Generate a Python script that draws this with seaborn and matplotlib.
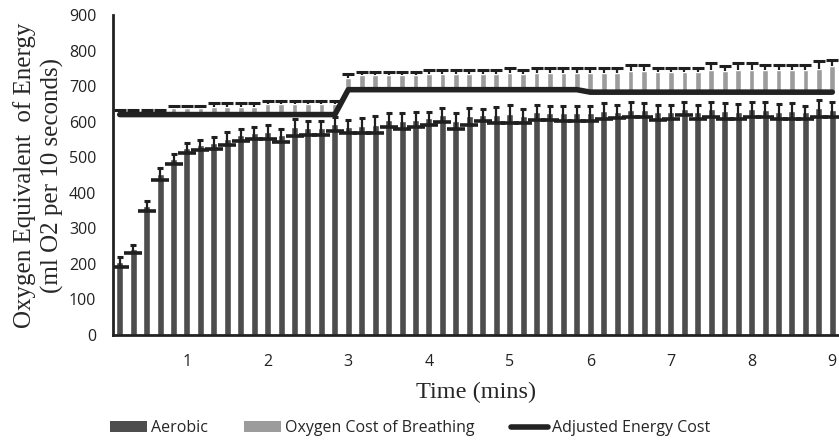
import matplotlib
matplotlib.use("Agg")
import matplotlib.pyplot as plt
import seaborn as sns
import numpy as np
from matplotlib.patches import Patch
from matplotlib.lines import Line2D

# one bar per 10 seconds, 54 bars shown (the chart is cut off at 9 min)
aerobic = [206, 242, 362, 452, 494, 525, 534, 540, 552, 562,
           568, 570, 562, 584, 582, 582, 593, 586, 588, 592,
           605, 602, 606, 610, 618, 602, 615, 618, 619, 622,
           617, 626, 624, 623, 623, 623, 630, 628, 634, 632,
           626, 627, 637, 627, 635, 630, 628, 635, 634, 628,
           630, 626, 638, 634]
aerobic_err = [14, 12, 14, 17, 14, 14, 14, 18, 18, 17,
               18, 20, 18, 23, 20, 20, 19, 18, 21, 25,
               20, 23, 22, 18, 20, 23, 24, 17, 22, 25,
               20, 22, 20, 21, 21, 21, 22, 19, 22, 20,
               20, 20, 19, 20, 21, 22, 21, 21, 20, 21,
               22, 19, 24, 20]
adjusted = [620] * 17 + [690] * 18 + [683] * 19
breathing = [9, 9, 9, 9, 18, 18, 18, 22, 22, 22,
             22, 29, 29, 29, 29, 29, 29, 34, 41, 41,
             41, 41, 41, 44, 44, 44, 44, 44, 44, 48,
             44, 48, 48, 48, 48, 55, 55, 55, 60, 60,
             57, 57, 57, 57, 62, 59, 62, 62, 62, 62,
             62, 62, 65, 73]
breathing_err = [4, 4, 4, 4, 7, 7, 7, 10, 10, 10,
                 10, 9, 9, 9, 9, 9, 9, 10, 9, 9,
                 9, 9, 9, 12, 12, 12, 12, 12, 12, 14,
                 12, 14, 14, 12, 12, 12, 12, 12, 16, 16,
                 12, 12, 12, 12, 20, 15, 20, 20, 14, 14,
                 14, 14, 23, 17]
minute_labels = ["1", "2", "3", "4", "5", "6", "7", "8", "9"]

DARK = "#4d4d4d"
GREY = "#9c9c9c"
INK = "#1f1f1f"

sns.set_style("white")
plt.rcParams['font.family'] = ['Open Sans', 'DejaVu Sans']

idx = np.arange(len(aerobic))
aer = np.array(aerobic)
aer_e = np.array(aerobic_err)
adj = np.array(adjusted)
ocb = np.array(breathing)
ocb_e = np.array(breathing_err)

fig = plt.figure(figsize=(8.39, 4.40), dpi=100)
ax = fig.add_axes([0.1347, 0.2386, 0.8653, 0.7273])

# aerobic bars
sns.barplot(x=idx, y=aer, color=DARK, saturation=1, width=0.52, ax=ax, zorder=2)
# oxygen cost of breathing sits on top of the adjusted energy cost level
ax.bar(idx, ocb, bottom=adj, width=0.42, color=GREY, zorder=2)

# error bars: aerobic (wide lower cap, small upper cap)
ax.errorbar(idx, aer, yerr=aer_e, fmt='none', ecolor=INK, elinewidth=1.6, capsize=0, zorder=3)
ax.plot(idx, aer - aer_e, ls='none', marker='_', markersize=13, mew=2.6, color=INK, zorder=3)
ax.plot(idx, aer + aer_e, ls='none', marker='_', markersize=5, mew=2.2, color=INK, zorder=3)
# error bars: breathing (upper only)
ax.errorbar(idx, adj + ocb, yerr=[np.zeros_like(ocb_e), ocb_e], fmt='none', ecolor=INK,
            elinewidth=1.6, capsize=0, zorder=3)
ax.plot(idx, adj + ocb + ocb_e, ls='none', marker='_', markersize=9, mew=2.2, color=INK, zorder=3)

# adjusted energy cost line
sns.lineplot(x=idx, y=adj, color="#222222", linewidth=4, ax=ax, zorder=4)

ax.set_xlim(-0.5, 53.5)
ax.set_ylim(0, 900)
ax.set_yticks(np.arange(0, 901, 100))
ax.set_xticks(np.arange(5, len(idx), 6))
ax.set_xticklabels(minute_labels)
ax.tick_params(axis='both', length=0, labelsize=11.5, colors="#222222")
ax.tick_params(axis='x', pad=14)
ax.tick_params(axis='y', pad=12)

for side in ['top', 'right']:
    ax.spines[side].set_visible(False)
for side in ['left', 'bottom']:
    ax.spines[side].set_color("#222222")
    ax.spines[side].set_linewidth(2)

ax.set_xlabel("Time (mins)", family="Liberation Serif", fontsize=17.5, labelpad=8)
ax.set_ylabel("Oxygen Equivalent  of Energy\n(ml O2 per 10 seconds)", family="Liberation Serif",
              fontsize=18, labelpad=3.5, linespacing=1.3)

handles = [Patch(facecolor=DARK, edgecolor='none'),
           Patch(facecolor=GREY, edgecolor='none'),
           Line2D([0], [0], color="#222222", lw=4)]
fig.legend(handles, ["Aerobic", "Oxygen Cost of Breathing", "Adjusted Energy Cost"],
           loc='center', bbox_to_anchor=(0.489, 0.027), ncol=3, frameon=False,
           fontsize=11.5, handlelength=2.3, handleheight=0.65, handletextpad=0.25,
           columnspacing=2.3)

fig.savefig("out.png", dpi=100)
